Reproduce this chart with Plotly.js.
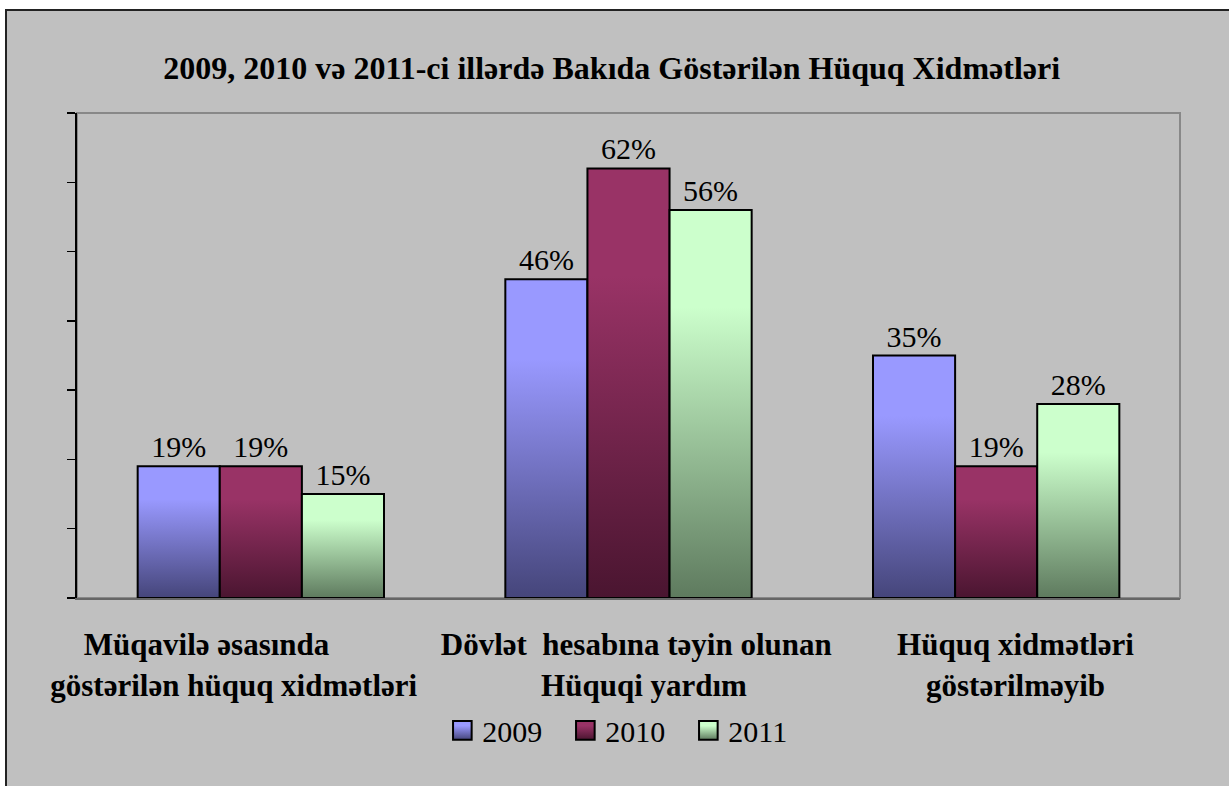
<!DOCTYPE html>
<html>
<head>
<meta charset="utf-8">
<script src="https://cdn.plot.ly/plotly-3.0.1.min.js"></script>
<style>
  html, body { margin: 0; padding: 0; background: #ffffff; overflow: hidden; }
  #frame { position: absolute; left: 5px; top: 9px; border-left: 2px solid #222; border-top: 2px solid #222; width: 1224px; height: 777px; background: #C0C0C0; }
  #chart { width: 1224px; height: 777px; }
</style>
</head>
<body>
<div id="frame"><div id="chart"></div></div>
<script>
const NB = "\u00a0";
const categories = [
  "Müqavilə əsasında" + NB.repeat(14) + "<br>göstərilən hüquq xidmətləri" + NB.repeat(7),
  NB.repeat(2) + "Dövlət" + NB + " hesabına təyin olunan<br>" + NB.repeat(4) + "Hüquqi yardım",
  NB.repeat(5) + "Hüquq xidmətləri<br>" + NB.repeat(5) + "göstərilməyib"
];
const seriesNames = ["2009", "2010", "2011"];
const values2009 = [0.19, 0.46, 0.35];
const values2010 = [0.19, 0.62, 0.19];
const values2011 = [0.15, 0.56, 0.28];
const seriesValues = [values2009, values2010, values2011];
const titleText = "2009, 2010 və 2011-ci illərdə Bakıda Göstərilən Hüquq Xidmətləri";

const solidColors = ["#7777C4", "#772A52", "#9CC49C"];
const gradients = [
  ["#9999FF", "#45457A"],
  ["#993366", "#4A1530"],
  ["#CCFFCC", "#5E7A5E"]
];

const serif = "Liberation Serif";

const traces = seriesNames.map((name, i) => ({
  type: "bar",
  name: name,
  x: categories,
  y: seriesValues[i],
  marker: { color: solidColors[i], line: { color: "#000000", width: 2 } },
  text: seriesValues[i].map(v => Math.round(v * 100) + "%"),
  textposition: "outside",
  constraintext: "none",
  cliponaxis: false,
  textfont: { family: serif, size: 30, color: "#000000" },
  hoverinfo: "none"
}));

const layout = {
  width: 1224,
  height: 777,
  paper_bgcolor: "#C0C0C0",
  plot_bgcolor: "#C0C0C0",
  font: { family: serif, color: "#000000" },
  margin: { l: 70, r: 51, t: 102, b: 190 },
  barmode: "group",
  bargap: 0.33,
  bargroupgap: 0,
  title: {
    text: titleText,
    font: { family: serif, size: 32, weight: "bold", color: "#000000" },
    xref: "container", x: 0.494, xanchor: "center",
    yref: "container", y: 0.927, yanchor: "middle"
  },
  xaxis: {
    showline: true, linecolor: "#666666", linewidth: 2,
    ticks: "", showgrid: false, zeroline: false,
    tickangle: 0,
    tickfont: { family: serif, size: 31, weight: "bold", color: "#000000" },
    ticklabelstandoff: 18
  },
  yaxis: {
    range: [0, 0.7], dtick: 0.1, tick0: 0,
    showline: true, linecolor: "#000000", linewidth: 2,
    ticks: "outside", ticklen: 8, tickwidth: 1.5, tickcolor: "#000000",
    showticklabels: false, showgrid: false, zeroline: false
  },
  shapes: [{
    type: "rect", xref: "paper", yref: "paper", x0: 0, x1: 1, y0: 0, y1: 1,
    line: { color: "#888888", width: 2 }, layer: "below"
  }],
  showlegend: true,
  legend: {
    orientation: "h", x: 0.4985, xanchor: "center", y: -0.273, yanchor: "middle",
    font: { family: serif, size: 30, color: "#000000" },
    bgcolor: "rgba(0,0,0,0)", itemwidth: 30,
    entrywidth: 78, entrywidthmode: "pixels"
  }
};

Plotly.newPlot("chart", traces, layout, { displayModeBar: false, staticPlot: true }).then(gd => {
  const svgNS = "http://www.w3.org/2000/svg";
  const svg = gd.querySelector(".main-svg");
  let defs = svg.querySelector("defs");
  if (!defs) { defs = document.createElementNS(svgNS, "defs"); svg.insertBefore(defs, svg.firstChild); }
  gradients.forEach((g, i) => {
    const lg = document.createElementNS(svgNS, "linearGradient");
    lg.setAttribute("id", "barGrad" + i);
    lg.setAttribute("x1", "0"); lg.setAttribute("y1", "0");
    lg.setAttribute("x2", "0"); lg.setAttribute("y2", "1");
    [[0, g[0]], [0.25, g[0]], [1, g[1]]].forEach(([o, c]) => {
      const st = document.createElementNS(svgNS, "stop");
      st.setAttribute("offset", o);
      st.setAttribute("stop-color", c);
      lg.appendChild(st);
    });
    defs.appendChild(lg);
  });
  gd.querySelectorAll(".barlayer .trace.bars").forEach((tr, i) => {
    tr.querySelectorAll("path").forEach(p => { p.style.fill = "url(#barGrad" + i + ")"; });
  });
  gd.querySelectorAll(".legend [clip-path]").forEach(el => el.removeAttribute("clip-path"));
  const lg = gd.querySelector(".legend");
  if (lg) lg.removeAttribute("clip-path");
  gd.querySelectorAll(".legend .traces").forEach((tr, i) => {
    tr.querySelectorAll(".legendpoints path").forEach(p => {
      p.style.fill = "url(#barGrad" + i + ")";
      p.style.strokeWidth = "1.3px";
      p.setAttribute("transform", "translate(20,0) scale(1.55)");
    });
  });
});
</script>
</body>
</html>
